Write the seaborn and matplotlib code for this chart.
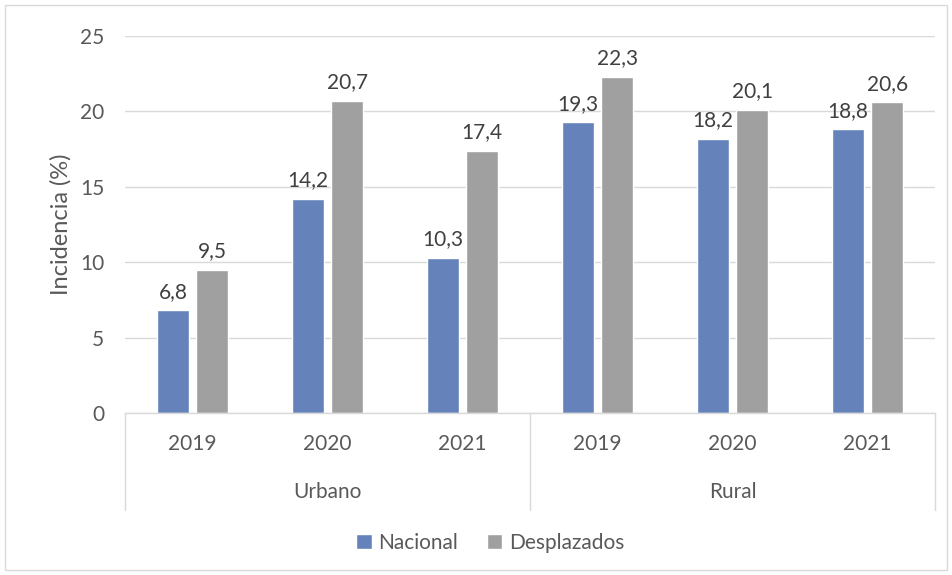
import matplotlib
matplotlib.use("Agg")
import matplotlib.pyplot as plt
import seaborn as sns
import pandas as pd
from matplotlib.patches import Rectangle

areas = ["Urbano", "Urbano", "Urbano", "Rural", "Rural", "Rural"]
years = ["2019", "2020", "2021", "2019", "2020", "2021"]
nacional = [6.8, 14.2, 10.3, 19.3, 18.2, 18.8]
desplazados = [9.5, 20.7, 17.4, 22.3, 20.1, 20.6]
series = ["Nacional", "Desplazados"]
colors = ["#6583BA", "#A0A0A0"]

rows = []
for i, (a, y) in enumerate(zip(areas, years)):
    key = f"{a} {y}"
    rows.append({"cat": key, "serie": series[0], "val": nacional[i]})
    rows.append({"cat": key, "serie": series[1], "val": desplazados[i]})
df = pd.DataFrame(rows)
order = [f"{a} {y}" for a, y in zip(areas, years)]

sns.set_theme(style="white")
plt.rcParams["font.family"] = ["Lato", "DejaVu Sans"]
txt = "#595959"

fig = plt.figure(figsize=(9.52, 5.75), dpi=100)
ax = fig.add_axes([125/952, 1-413/575, 810/952, 377/575])

sns.barplot(data=df, x="cat", y="val", hue="serie", order=order,
            hue_order=series, palette=colors, width=0.58, gap=0.18,
            saturation=1, ax=ax, legend=True)

for cont in ax.containers:
    ax.bar_label(cont, labels=[f"{v:.1f}".replace(".", ",") for v in cont.datavalues],
                 padding=6, fontsize=15, color="#404040")

ax.set_ylim(0, 25)
ax.set_xlim(-0.5, 5.5)
ax.set_yticks([0, 5, 10, 15, 20, 25])
ax.yaxis.grid(True, color="#D9D9D9", linewidth=1)
ax.set_axisbelow(True)
for s in ["top", "right", "left"]:
    ax.spines[s].set_visible(False)
ax.spines["bottom"].set_color("#D9D9D9")
ax.spines["bottom"].set_linewidth(1)
ax.tick_params(axis="y", length=0, pad=15, labelsize=15, labelcolor=txt)
ax.tick_params(axis="x", length=0, pad=15, labelsize=15, labelcolor=txt)
ax.set_xticks(range(6))
ax.set_xticklabels(years)
ax.set_xlabel("")
ax.set_ylabel("Incidencia (%)", fontsize=17, color=txt)
ax.yaxis.set_label_coords(-0.066, 0.5)

# group separators and labels
for xs in [-0.5, 2.5, 5.5]:
    ax.plot([xs, xs], [0, -0.257], transform=ax.get_xaxis_transform(),
            color="#D9D9D9", linewidth=1, clip_on=False)
for xc, name in [(1, "Urbano"), (4, "Rural")]:
    ax.text(xc, -0.21, name, transform=ax.get_xaxis_transform(),
            ha="center", va="center", fontsize=15, color=txt)

leg = ax.legend(loc="center", bbox_to_anchor=(490/952, 1-543/575),
                bbox_transform=fig.transFigure, ncol=2, frameon=False,
                fontsize=15, handlelength=0.75, handleheight=0.75,
                handletextpad=0.3, columnspacing=1.4)
for t in leg.get_texts():
    t.set_color(txt)

fig.patches.append(Rectangle((5/952, 5/575), 942/952, 565/575, transform=fig.transFigure,
                             fill=False, edgecolor="#D9D9D9", linewidth=1))

fig.savefig("out.png", dpi=100)
